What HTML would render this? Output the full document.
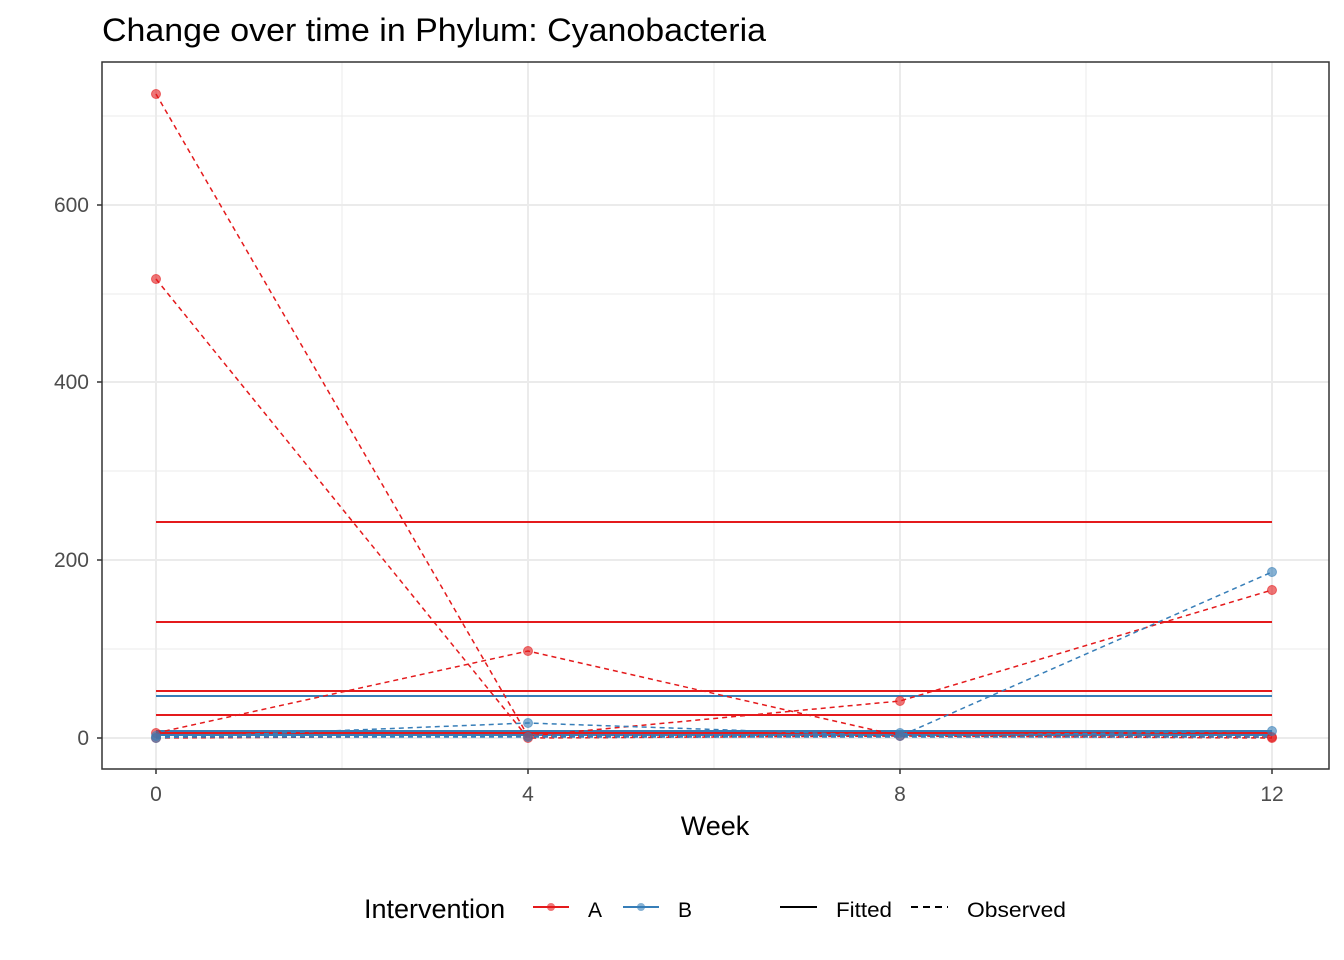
<!DOCTYPE html>
<html><head><style>body{margin:0;background:#fff}svg{display:block}</style></head><body>
<svg width="1344" height="960" xmlns="http://www.w3.org/2000/svg" font-family="Liberation Sans, sans-serif">
<rect width="1344" height="960" fill="#fff"/>
<text x="102" y="41" font-size="32" fill="#000" textLength="664" lengthAdjust="spacingAndGlyphs">Change over time in Phylum: Cyanobacteria</text>
<g stroke="#ebebeb" stroke-width="1">
<line x1="102" x2="1329" y1="649" y2="649"/><line x1="102" x2="1329" y1="471" y2="471"/><line x1="102" x2="1329" y1="294" y2="294"/><line x1="102" x2="1329" y1="116" y2="116"/>
<line x1="342" x2="342" y1="62" y2="769"/><line x1="714" x2="714" y1="62" y2="769"/><line x1="1086" x2="1086" y1="62" y2="769"/>
</g>
<g stroke="#ebebeb" stroke-width="2">
<line x1="102" x2="1329" y1="738" y2="738"/><line x1="102" x2="1329" y1="560" y2="560"/><line x1="102" x2="1329" y1="382" y2="382"/><line x1="102" x2="1329" y1="205" y2="205"/>
<line x1="156" x2="156" y1="62" y2="769"/><line x1="528" x2="528" y1="62" y2="769"/><line x1="900" x2="900" y1="62" y2="769"/><line x1="1272" x2="1272" y1="62" y2="769"/>
</g>
<g stroke-width="2">
<line x1="156" x2="1272" y1="522" y2="522" stroke="#e41a1c"/>
<line x1="156" x2="1272" y1="622" y2="622" stroke="#e41a1c"/>
<line x1="156" x2="1272" y1="691" y2="691" stroke="#e41a1c"/>
<line x1="156" x2="1272" y1="696" y2="696" stroke="#377eb8"/>
<line x1="156" x2="1272" y1="715" y2="715" stroke="#e41a1c"/>
<line x1="156" x2="1272" y1="731" y2="731" stroke="#377eb8"/>
<line x1="156" x2="1272" y1="733" y2="733" stroke="#e41a1c"/>
<line x1="156" x2="1272" y1="735" y2="735" stroke="#377eb8"/>
</g>
<g fill="none" stroke-width="1.5" stroke-dasharray="5,4">
<polyline stroke="#e41a1c" points="156,94 528,736 900,736 1272,737"/>
<polyline stroke="#e41a1c" points="156,279 528,738 900,736 1272,738"/>
<polyline stroke="#e41a1c" points="156,733 528,651 900,736 1272,737"/>
<polyline stroke="#e41a1c" points="156,738 528,736 900,701 1272,590"/>
<polyline stroke="#377eb8" points="156,738 528,723 900,736 1272,731"/>
<polyline stroke="#377eb8" points="156,736 528,736 900,736 1272,572"/>
<polyline stroke="#377eb8" points="156,737 528,737 900,737 1272,737"/>
</g>
<g fill-opacity="0.6" stroke-width="1" stroke-opacity="0.6">
<g fill="#e41a1c" stroke="#e41a1c">
<circle cx="156" cy="94" r="4.5"/><circle cx="156" cy="279" r="4.5"/><circle cx="156" cy="733" r="4.5"/><circle cx="156" cy="738" r="4.5"/>
<circle cx="528" cy="736" r="4.5"/><circle cx="528" cy="738" r="4.5"/><circle cx="528" cy="651" r="4.5"/>
<circle cx="900" cy="736" r="4.5"/><circle cx="900" cy="701" r="4.5"/>
<circle cx="1272" cy="737" r="4.5"/><circle cx="1272" cy="738" r="4.5"/><circle cx="1272" cy="590" r="4.5"/></g>
<g fill="#377eb8" stroke="#377eb8">
<circle cx="156" cy="738" r="4.5"/><circle cx="156" cy="736" r="4.5"/>
<circle cx="528" cy="723" r="4.5"/><circle cx="528" cy="737" r="4.5"/>
<circle cx="900" cy="736" r="4.5"/><circle cx="900" cy="733" r="4.5"/>
<circle cx="1272" cy="731" r="4.5"/><circle cx="1272" cy="572" r="4.5"/></g>
</g>
<rect x="102" y="62" width="1227" height="707" fill="none" stroke="#333" stroke-width="1.5"/>
<g stroke="#333" stroke-width="1.5">
<line x1="97" x2="102" y1="738" y2="738"/><line x1="97" x2="102" y1="560" y2="560"/><line x1="97" x2="102" y1="382" y2="382"/><line x1="97" x2="102" y1="205" y2="205"/>
<line x1="156" x2="156" y1="769" y2="774"/><line x1="528" x2="528" y1="769" y2="774"/><line x1="900" x2="900" y1="769" y2="774"/><line x1="1272" x2="1272" y1="769" y2="774"/>
</g>
<g font-size="21" fill="#4d4d4d" text-anchor="end">
<text x="89" y="745">0</text><text x="89" y="567">200</text><text x="89" y="389">400</text><text x="89" y="212">600</text></g>
<g font-size="21" fill="#4d4d4d" text-anchor="middle">
<text x="156" y="801">0</text><text x="528" y="801">4</text><text x="900" y="801">8</text><text x="1272" y="801">12</text></g>
<text x="715" y="835" font-size="27" text-anchor="middle">Week</text>
<text x="364" y="918" font-size="27">Intervention</text>
<line x1="533" x2="569" y1="907" y2="907" stroke="#e41a1c" stroke-width="2"/><circle cx="551" cy="907" r="4" fill="#e41a1c" fill-opacity="0.6"/>
<text x="588" y="917" font-size="21">A</text>
<line x1="623" x2="659" y1="907" y2="907" stroke="#377eb8" stroke-width="2"/><circle cx="641" cy="907" r="4" fill="#377eb8" fill-opacity="0.6"/>
<text x="678" y="917" font-size="21">B</text>
<line x1="780" x2="817" y1="907" y2="907" stroke="#000" stroke-width="2"/>
<text x="836" y="917" font-size="21" textLength="56" lengthAdjust="spacingAndGlyphs">Fitted</text>
<line x1="911" x2="948" y1="907" y2="907" stroke="#000" stroke-width="2" stroke-dasharray="7,5"/>
<text x="967" y="917" font-size="21" textLength="99" lengthAdjust="spacingAndGlyphs">Observed</text>
</svg>
</body></html>
